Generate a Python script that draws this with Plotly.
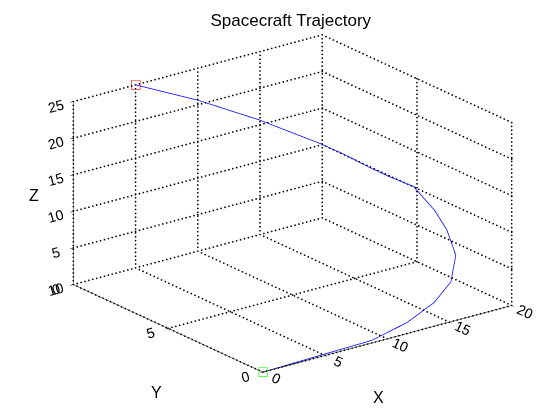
import numpy as np
import plotly.graph_objects as go

# trajectory samples (x, y, z)
traj_x = [0, 4.7, 8.9, 12.1, 14.9, 17.0, 18.6, 19.2, 19.3, 19.0, 17.8, 17.0, 15.7, 14.7, 11.7, 8.5, 5.0]
traj_y = [0, 0.05, 0.08, 0.34, 0.74, 1.24, 2.03, 2.89, 3.61, 4.53, 5.05, 5.46, 6.16, 6.65, 7.89, 9.0, 10.0]
traj_z = [0, 0.1, 0.2, 0.85, 1.84, 3.1, 5.07, 7.2, 9.0, 11.3, 12.6, 13.6, 15.4, 16.6, 19.7, 22.5, 25.0]

x_ticks = [0, 5, 10, 15, 20]
y_ticks = [0, 5, 10]
z_ticks = [0, 5, 10, 15, 20, 25]

FONT = "Liberation Sans, Arial, sans-serif"
W, H = 560, 419
M = dict(l=9, r=0, t=0, b=28)


def grid_dots():
    # dotted grid on the back walls (y = max, x = max) and the floor (z = min),
    # drawn as rows of tiny markers so it looks like MATLAB's ':' grid
    x0, x1 = x_ticks[0], x_ticks[-1]
    y0, y1 = y_ticks[0], y_ticks[-1]
    z0, z1 = z_ticks[0], z_ticks[-1]
    gx, gy, gz = [], [], []

    def seg(a, b, n):
        t = np.linspace(0, 1, n)
        gx.extend(a[0] + (b[0] - a[0]) * t)
        gy.extend(a[1] + (b[1] - a[1]) * t)
        gz.extend(a[2] + (b[2] - a[2]) * t)

    for xv in x_ticks:
        seg((xv, y1, z0), (xv, y1, z1), 48)   # back wall, vertical
        seg((xv, y0, z0), (xv, y1, z0), 52)   # floor
    for yv in y_ticks:
        seg((x1, yv, z0), (x1, yv, z1), 48)   # right wall, vertical
        seg((x0, yv, z0), (x1, yv, z0), 65)   # floor
    for zv in z_ticks:
        seg((x0, y1, zv), (x1, y1, zv), 65)   # back wall, horizontal
        seg((x1, y0, zv), (x1, y1, zv), 52)   # right wall, horizontal
    return go.Scatter3d(x=gx, y=gy, z=gz, mode="markers",
                        marker=dict(color="black", size=1.0, symbol="circle",
                                    line=dict(width=0)),
                        showlegend=False, hoverinfo="skip")


def main():
    fig = go.Figure()
    fig.add_trace(grid_dots())
    fig.add_trace(go.Scatter3d(x=traj_x, y=traj_y, z=traj_z, mode="lines",
                               line=dict(color="#0000ff", width=1.5),
                               showlegend=False, hoverinfo="skip"))
    fig.add_trace(go.Scatter3d(x=traj_x[:1], y=traj_y[:1], z=traj_z[:1], mode="markers",
                               marker=dict(symbol="square-open", size=4, color="#00ff00"),
                               showlegend=False))
    fig.add_trace(go.Scatter3d(x=traj_x[-1:], y=traj_y[-1:], z=traj_z[-1:], mode="markers",
                               marker=dict(symbol="square-open", size=4, color="#ff0000"),
                               showlegend=False))

    def ax(ticks):
        return dict(title=dict(text=""),
                    range=[ticks[0], ticks[-1]], tickvals=ticks,
                    tickfont=dict(family=FONT, size=13, color="black"),
                    showgrid=False,
                    showline=True, linecolor="black", linewidth=1,
                    ticks="outside", ticklen=4, tickcolor="black",
                    showbackground=False, zeroline=False, showspikes=False)

    # axis titles placed where MATLAB puts them (pixel positions -> paper coords)
    labels = [("X", 370, 389), ("Y", 148, 384), ("Z", 26, 187)]
    pw, ph = W - M["l"] - M["r"], H - M["t"] - M["b"]
    annotations = [dict(text=t, x=(px - M["l"]) / pw, y=(H - M["b"] - py) / ph,
                        xref="paper", yref="paper",
                        xanchor="center", yanchor="middle", showarrow=False,
                        font=dict(family=FONT, size=16, color="black"))
                   for t, px, py in labels]

    eye_dir = np.array([-0.567, -0.745, 0.352])
    eye = eye_dir * 2.0
    s = 1.60
    fig.update_layout(
        width=W, height=H, paper_bgcolor="white",
        margin=M,
        title=dict(text="Spacecraft Trajectory", x=0.505, xref="container",
                   y=1 - 12 / H, yref="container", xanchor="center", yanchor="middle",
                   font=dict(family=FONT, size=17, color="black")),
        annotations=annotations,
        scene=dict(
            xaxis=ax(x_ticks), yaxis=ax(y_ticks), zaxis=ax(z_ticks),
            aspectmode="manual", aspectratio=dict(x=s, y=s, z=1.0),
            camera=dict(projection=dict(type="orthographic"),
                        eye=dict(x=eye[0], y=eye[1], z=eye[2]),
                        up=dict(x=0, y=0, z=1), center=dict(x=0, y=0, z=0)),
            bgcolor="white"),
    )
    fig.write_html("out.html")


if __name__ == "__main__":
    main()
